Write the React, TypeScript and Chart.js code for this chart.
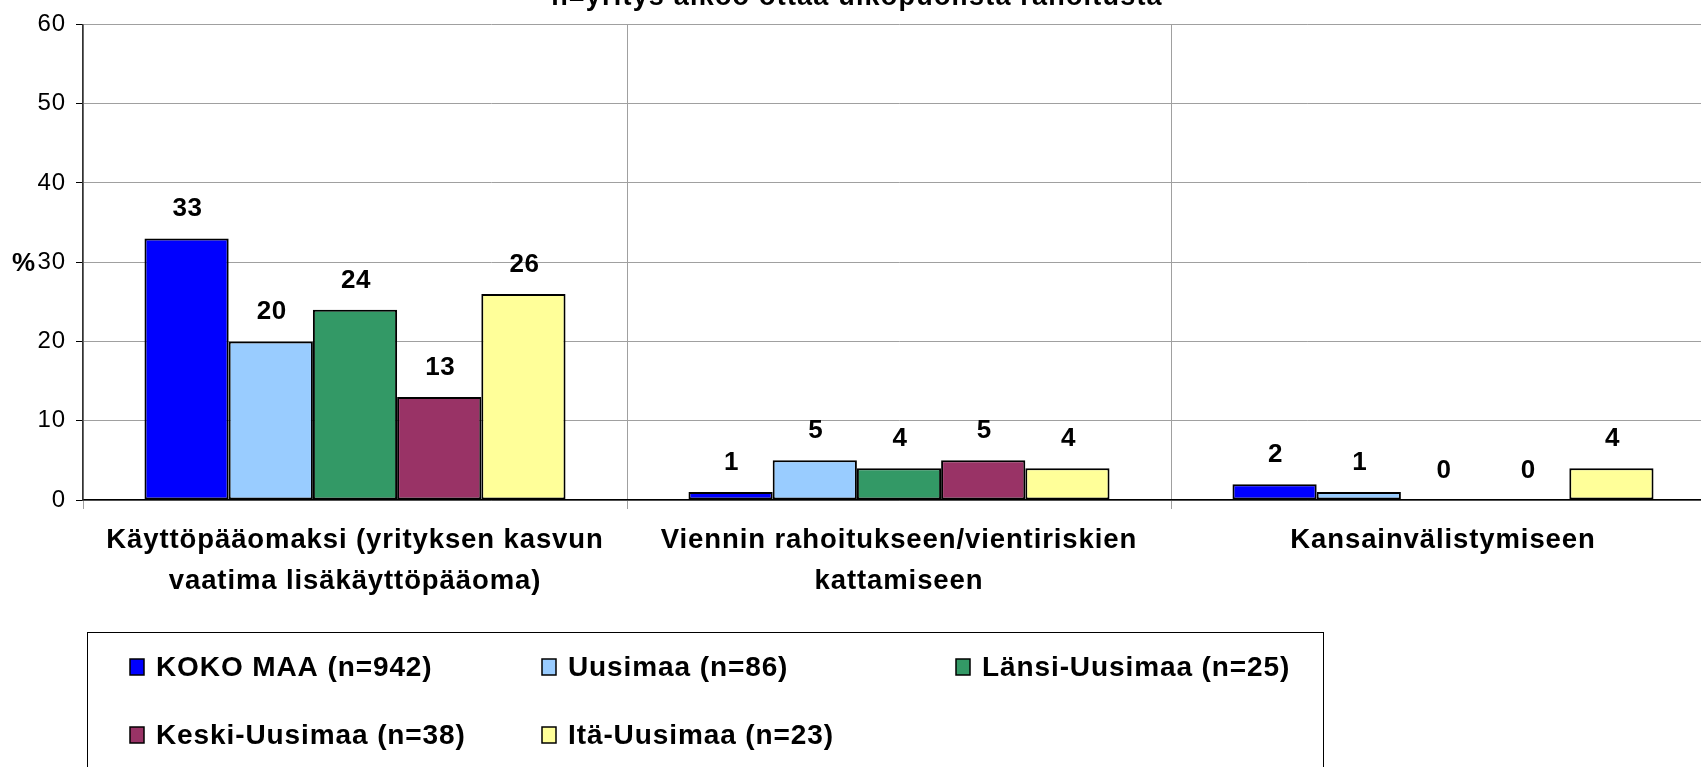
import React, { useEffect, useRef } from 'react';
import { Chart, registerables } from 'chart.js';

Chart.register(...registerables);

const categories: (string | string[])[] = [
  ['Käyttöpääomaksi (yrityksen kasvun', 'vaatima lisäkäyttöpääoma)'],
  ['Viennin rahoitukseen/vientiriskien', 'kattamiseen'],
  'Kansainvälistymiseen',
];
const seriesNames = [
  'KOKO MAA (n=942)',
  'Uusimaa (n=86)',
  'Länsi-Uusimaa (n=25)',
  'Keski-Uusimaa (n=38)',
  'Itä-Uusimaa (n=23)',
];
const kokoMaa = [33, 1, 2];
const uusimaa = [20, 5, 1];
const lansiUusimaa = [24, 4, 0];
const keskiUusimaa = [13, 5, 0];
const itaUusimaa = [26, 4, 4];
const seriesValues = [kokoMaa, uusimaa, lansiUusimaa, keskiUusimaa, itaUusimaa];
const seriesColors = ['#0000FF', '#99CCFF', '#339966', '#993366', '#FFFF99'];
const yMin = 0;
const yMax = 60;
const yStep = 10;
const titleText = 'n=yritys aikoo ottaa ulkopuolista rahoitusta';
const yAxisLabel = '%';

const FONT = '"Liberation Sans", Arial, sans-serif';
const SPACING = '0.9px';

const spacingPlugin = {
  id: 'letterSpacing',
  beforeUpdate(chart: any) {
    chart.ctx.letterSpacing = SPACING;
  },
  beforeDraw(chart: any) {
    chart.ctx.letterSpacing = SPACING;
  },
};

const titlePlugin = {
  id: 'clippedTitle',
  afterDraw(chart: any) {
    const ctx = chart.ctx;
    ctx.save();
    ctx.letterSpacing = '1.2px';
    ctx.font = `bold 27px ${FONT}`;
    ctx.fillStyle = '#000';
    ctx.textAlign = 'center';
    ctx.textBaseline = 'alphabetic';
    ctx.fillText(titleText, 857, 5);
    // "%" axis label
    const ys = chart.scales.y;
    ctx.letterSpacing = '0px';
    ctx.font = `bold 26px ${FONT}`;
    ctx.textAlign = 'left';
    ctx.textBaseline = 'middle';
    ctx.fillText(yAxisLabel, 12, ys.getPixelForValue(30) + 2);
    ctx.restore();
  },
};

const valueLabelPlugin = {
  id: 'valueLabels',
  afterDatasetsDraw(chart: any) {
    const ctx = chart.ctx;
    ctx.save();
    ctx.letterSpacing = '0.5px';
    ctx.font = `bold 26px ${FONT}`;
    ctx.fillStyle = '#000';
    ctx.textAlign = 'center';
    ctx.textBaseline = 'alphabetic';
    chart.data.datasets.forEach((ds: any, i: number) => {
      const meta = chart.getDatasetMeta(i);
      meta.data.forEach((bar: any, j: number) => {
        ctx.fillText(String(ds.data[j]), bar.x + 1, bar.y - 22);
      });
    });
    ctx.restore();
  },
};

const legendPlugin = {
  id: 'boxLegend',
  afterDraw(chart: any) {
    const ctx = chart.ctx;
    ctx.save();
    ctx.strokeStyle = '#000';
    ctx.lineWidth = 1;
    ctx.strokeRect(87.5, 632.5, 1236, 200);
    const cols = [130, 542, 956];
    const rows = [667, 735];
    ctx.letterSpacing = SPACING;
    ctx.font = `bold 28px ${FONT}`;
    ctx.textAlign = 'left';
    ctx.textBaseline = 'middle';
    chart.data.datasets.forEach((ds: any, i: number) => {
      const x = cols[i % 3];
      const y = rows[Math.floor(i / 3)];
      ctx.fillStyle = ds.backgroundColor;
      ctx.fillRect(x, y - 8, 14, 16);
      ctx.lineWidth = 1.5;
      ctx.strokeStyle = '#000';
      ctx.strokeRect(x, y - 8, 14, 16);
      ctx.fillStyle = '#000';
      ctx.fillText(ds.label, x + 26, y + 1);
    });
    ctx.restore();
  },
};

export default function App() {
  const ref = useRef<HTMLCanvasElement | null>(null);

  useEffect(() => {
    if (!ref.current) return;
    const chart = new Chart(ref.current, {
      type: 'bar',
      data: {
        labels: categories,
        datasets: seriesNames.map((name, i) => ({
          label: name,
          data: seriesValues[i],
          backgroundColor: seriesColors[i],
          borderColor: '#000',
          borderWidth: 2,
          borderSkipped: false,
          categoryPercentage: 0.774,
          barPercentage: 1,
        })),
      },
      options: {
        animation: false,
        responsive: false,
        maintainAspectRatio: false,
        layout: { padding: { left: 0, top: 23, right: 0, bottom: 0 } },
        plugins: {
          legend: { display: false },
          title: { display: false },
          tooltip: { enabled: false },
        },
        scales: {
          x: {
            offset: true,
            afterFit: (scale: any) => {
              scale.height = 267;
            },
            grid: {
              offset: true,
              color: '#a0a0a0',
              lineWidth: 1,
              tickLength: 9,
              drawTicks: true,
            },
            border: { color: '#000', width: 1.5 },
            ticks: {
              autoSkip: false,
              maxRotation: 0,
              minRotation: 0,
              padding: 11,
              color: '#000',
              font: { family: FONT, size: 27.5, weight: 'bold', lineHeight: 1.5 },
            },
          },
          y: {
            min: yMin,
            max: yMax,
            afterFit: (scale: any) => {
              scale.width = 83;
            },
            grid: {
              color: '#a0a0a0',
              lineWidth: 1,
              tickLength: 7,
              tickColor: '#000',
            },
            border: { color: '#333', width: 1.5 },
            ticks: {
              stepSize: yStep,
              padding: 10,
              color: '#000',
              font: { family: FONT, size: 24 },
            },
          },
        },
      },
      plugins: [spacingPlugin, valueLabelPlugin, titlePlugin, legendPlugin],
    } as any);
    return () => chart.destroy();
  }, []);

  return (
    <div
      style={{
        position: 'fixed',
        left: 0,
        top: 0,
        width: 1701,
        height: 767,
        overflow: 'hidden',
        background: '#fff',
      }}
    >
      <canvas ref={ref} width={1715} height={767} style={{ display: 'block' }} />
    </div>
  );
}
